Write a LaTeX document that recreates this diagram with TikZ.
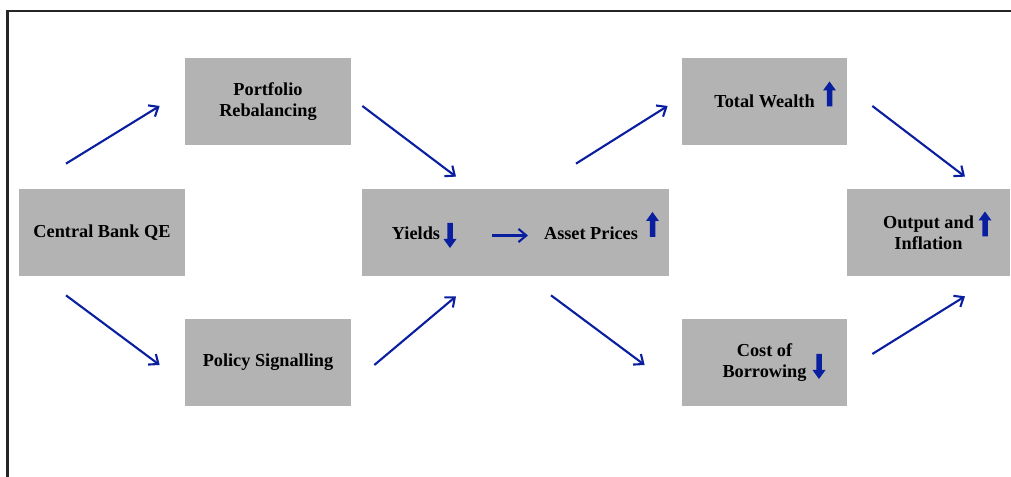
\documentclass[tikz,border=0pt]{standalone}
\usepackage{fontspec}
\setmainfont{Liberation Serif}
\usetikzlibrary{arrows.meta}
\definecolor{boxgray}{RGB}{179,179,179}
\definecolor{qeblue}{RGB}{10,30,160}
\newcommand{\boxfont}{\fontsize{10.4}{12}\selectfont\bfseries}
\tikzset{uparr/.pic={\fill[qeblue] (-0.055,0) -- (-0.055,0.32) -- (-0.13,0.32) -- (0,0.5) -- (0.13,0.32) -- (0.055,0.32) -- (0.055,0) -- cycle;}}

\begin{document}
\begin{tikzpicture}[
				box/.style={fill=boxgray, minimum width=3.32cm, minimum height=1.74cm, inner sep=0pt, align=center, font=\boxfont},
				txt/.style={inner sep=0pt, font=\boxfont},
				flow/.style={qeblue, line width=1.2pt, -{Straight Barb[length=4.5pt,width=7.5pt]}}
				]
				
				\useasboundingbox (0,0) rectangle (20.22,9.54);
				\draw[line width=1.3pt, black!85] (0.15,-0.5) -- (0.15,9.32) -- (20.8,9.32);
				
				\node[box] (qe) at (2.04,4.89) {Central Bank QE};
				\node[box] (port) at (5.36,7.51) {Portfolio\\Rebalancing};
				\node[box] (sig) at (5.36,2.29) {Policy Signalling};
				\node[box, minimum width=6.14cm] (yap) at (10.31,4.89) {};
				\node[txt] (yld) at (8.32,4.88) {Yields};
				\node[txt] (ast) at (11.82,4.88) {Asset Prices};
				\node[box, minimum width=3.30cm] (tw) at (15.29,7.51) {Total Wealth};
				\node[box, minimum width=3.30cm] (cob) at (15.29,2.29) {Cost of\\Borrowing};
				\node[box, minimum width=3.26cm] (oi) at (18.57,4.89) {Output and\\Inflation};
				
				\pic[rotate=180] at (9.0,5.08) {uparr};
				\pic at (13.05,4.80) {uparr};
				\pic at (16.59,7.41) {uparr};
				\pic at (19.70,4.81) {uparr};
				\pic[rotate=180] at (16.38,2.46) {uparr};
				
				\draw[flow] ([shift={(-0.72,0.5)}]qe.north) -- ([shift={(-0.5,-0.09)}]port.west);
				\draw[flow] ([shift={(-0.72,-0.38)}]qe.south) -- ([shift={(-0.5,-0.05)}]sig.west);
				\draw[flow] ([shift={(0.22,-0.09)}]port.east) -- ([shift={(-1.19,0.24)}]yap.north);
				\draw[flow] ([shift={(0.46,-0.05)}]sig.east) -- ([shift={(-1.19,-0.40)}]yap.south);
				\draw[flow] ([shift={(1.52,-0.05)}]yld.center) -- ([shift={(-1.26,-0.05)}]ast.center);
				\draw[flow] ([shift={(1.21,0.5)}]yap.north) -- ([shift={(-0.28,-0.09)}]tw.west);
				\draw[flow] ([shift={(0.71,-0.38)}]yap.south) -- ([shift={(-0.74,-0.05)}]cob.west);
				\draw[flow] ([shift={(0.5,-0.09)}]tw.east) -- ([shift={(0.73,0.24)}]oi.north);
				\draw[flow] ([shift={(0.5,0.17)}]cob.east) -- ([shift={(0.73,-0.40)}]oi.south);
			\end{tikzpicture}
\end{document}
